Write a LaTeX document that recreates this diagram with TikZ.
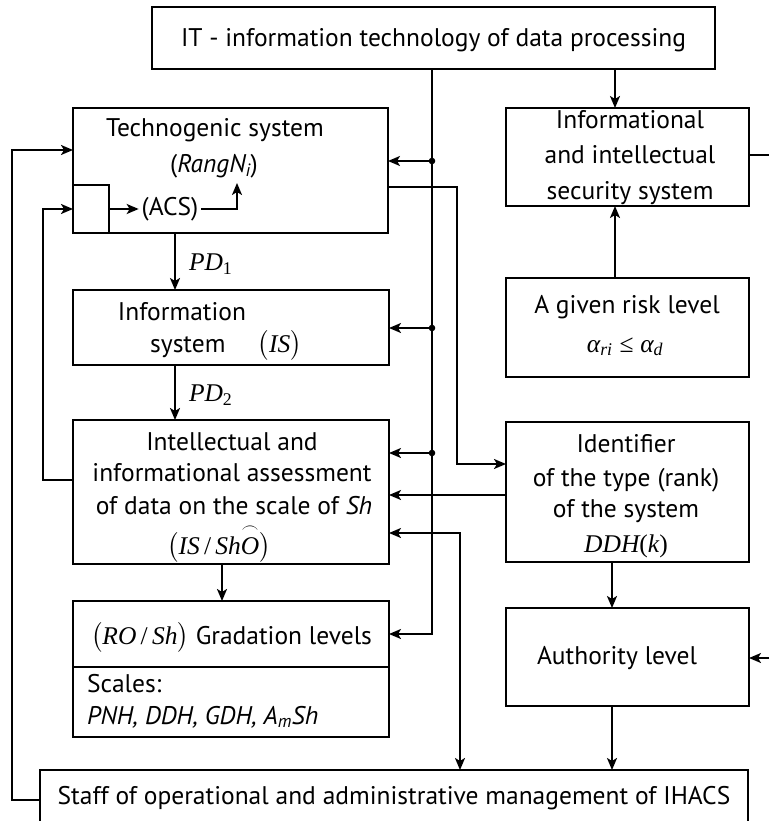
\documentclass[tikz,border=0pt]{standalone}
\usepackage{fontspec}
\usepackage{amsmath}
\setmainfont{PT Sans}
\newfontfamily\tms{Liberation Serif}
\newcommand\tmit[1]{{\tms\itshape #1}}
\newcommand\tmup[1]{{\tms #1}}
\usetikzlibrary{arrows.meta}
\begin{document}
\begin{tikzpicture}[x=1pt,y=-1pt,
  every node/.style={font=\fontsize{25.5}{30}\selectfont, inner sep=0pt, outer sep=0pt},
  box/.style={draw, line width=1.9pt},
  txt/.style={anchor=base},
  arr/.style={line width=1.9pt, -{Stealth[length=12pt,width=10pt,inset=3pt]}},
  arrb/.style={line width=1.9pt, {Stealth[length=12pt,width=10pt,inset=3pt]}-{Stealth[length=12pt,width=10pt,inset=3pt]}},
  ln/.style={line width=1.9pt}]
\clip (0,0) rectangle (769,821);
\fill[white] (0,0) rectangle (769,821);

% boxes
\node[box, minimum width=563pt, minimum height=62pt] (it) at (433.5,38) {};
\node[box, minimum width=315pt, minimum height=125pt] (tech) at (230.5,170.5) {};
\node[box, minimum width=36pt, minimum height=48pt] (acsbox) at (91,209) {};
\node[box, minimum width=316pt, minimum height=75pt] (is) at (231,327.5) {};
\node[box, minimum width=316pt, minimum height=144pt] (intel) at (231,492) {};
\node[box, minimum width=316pt, minimum height=66pt] (gtop) at (231,634) {};
\node[box, minimum width=316pt, minimum height=70pt] (gbot) at (231,702) {};
\node[box, minimum width=243pt, minimum height=98pt] (sec) at (627.5,157) {};
\node[box, minimum width=243pt, minimum height=99pt] (risk) at (627.5,327.5) {};
\node[box, minimum width=243pt, minimum height=140pt] (ident) at (627.5,492) {};
\node[box, minimum width=243pt, minimum height=98pt] (auth) at (627.5,657) {};
\node[box, minimum width=708pt, minimum height=70pt] (staff) at (394,805) {};

% texts
\node[txt] (tIT) at (433.5,47) {IT - information technology of data processing};
\node[txt] (tTech1) at (215,137) {Technogenic system};
\node[txt] (tTech2) at (214,172) {(\textit{RangN\textsubscript{i}})};
\node (acs) at (170,209) [inner sep=3pt] {(ACS)};
\node[txt] (tIS1) at (182,320) {Information};
\node[txt] (tIS2) at (226,352) {system\quad\ $\bigl(\text{\tmit{IS}}\bigr)$};
\node[txt] (tIn1) at (232,450) {Intellectual and};
\node[txt] (tIn2) at (232,481) {informational assessment};
\node[txt] (tIn3) at (234,514) {of data on the scale of \textit{Sh}};
\node[txt] (tIn4) at (219,554) {$\bigl(\text{\tmit{IS}\,\tmup{/}\,\tmit{Sh}}\overset{\frown}{\text{\tmit{O}}}\bigr)$};
\node[txt] (tG1) at (231.5,644) {$\bigl(\text{\tmit{RO}\,\tmup{/}\,\tmit{Sh}}\bigr)$ Gradation levels};
\node[txt, anchor=base west] (tG2) at (87,692) {Scales:};
\node[txt, anchor=base west] (tG3) at (87,724) {\textit{PNH, DDH, GDH, A\textsubscript{m}Sh}};
\node[txt] (tS1) at (630,129) {Informational};
\node[txt] (tS2) at (630,164) {and intellectual};
\node[txt] (tS3) at (630,199) {security system};
\node[txt] (tR1) at (627,313) {A given risk level};
\node[txt] (tR2) at (625,352) {\tmit{α\textsubscript{ri}} \tmup{≤} \tmit{α\textsubscript{d}}};
\node[txt] (tD1) at (626,452) {Identifier};
\node[txt] (tD2) at (626,486) {of the type (rank)};
\node[txt] (tD3) at (626,517) {of the system};
\node[txt] (tD4) at (626,552) {\tmit{DDH}\tmup{(}\tmit{k}\tmup{)}};
\node[txt] (tA) at (617,664) {Authority level};
\node[txt] (tSt) at (394,804) {Staff of operational and administrative management of IHACS};

% grid coordinates for the routed connectors
\coordinate (d1) at (432,161);
\coordinate (d2) at (432,328);
\coordinate (d3) at (432,453);
\coordinate (v1) at (615,0);
\coordinate (v2) at (612,0);
\coordinate (v3) at (222,0);
\coordinate (v4) at (175,0);
\coordinate (e1) at (769,155);
\coordinate (e2) at (769,658);
\coordinate (h1) at (0,495);
\coordinate (w1) at (460,533);
\coordinate (r1) at (457,187);
\coordinate (r2) at (457,464);
\coordinate (f1) at (12,800);
\coordinate (f2) at (0,150);
\coordinate (g1) at (43,480);
\coordinate (k1) at (237,183);

% IT bus feeding the left column
\draw[arr] (it.south -| d1) |- (gtop.east);
\draw[arr] (d1) -- (d1 -| tech.east);
\draw[arr] (d2) -- (d2 -| is.east);
\draw[arr] (d3) -- (d3 -| intel.east);
\foreach \d in {d1,d2,d3} \fill (\d) circle (3.3pt);

% right column
\draw[arr] (it.south -| v1) -- (sec.north -| v1);
\draw[arr] (risk.north -| v1) -- (sec.south -| v1);
\draw[ln] (sec.east |- e1) -- (e1);
\draw[arr] (e2) -- (auth.east |- e2);
\draw[arr] (ident.south -| v2) -- (auth.north -| v2);
\draw[arr] (auth.south -| v2) -- (staff.north -| v2);

% cross links
\draw[arr] (tech.east |- r1) -- (r1) |- (ident.west |- r2);
\draw[arr] (ident.west |- h1) -- (intel.east |- h1);
\draw[arrb] (intel.east |- w1) -- (w1) -- (w1 |- staff.north);

% left column flow
\draw[arr] (tech.south -| v4) -- (is.north -| v4)
  node[midway, anchor=west, xshift=14pt, yshift=-3pt] (pd1) {\tmit{PD}\tmup{\textsubscript{1}}};
\draw[arr] (is.south -| v4) -- (intel.north -| v4)
  node[midway, anchor=west, xshift=14pt, yshift=-3pt] (pd2) {\tmit{PD}\tmup{\textsubscript{2}}};
\draw[arr] (intel.south -| v3) -- (gtop.north -| v3);

% feedback loops
\draw[arr] (staff.west |- f1) -- (f1) |- (tech.west |- f2);
\draw[arr] (intel.west |- g1) -- (g1) |- (acsbox.west);
\draw[arr] (acsbox.east) -- (acs.west);
\draw[arr] (acs.east) -| (k1);
\end{tikzpicture}
\end{document}
